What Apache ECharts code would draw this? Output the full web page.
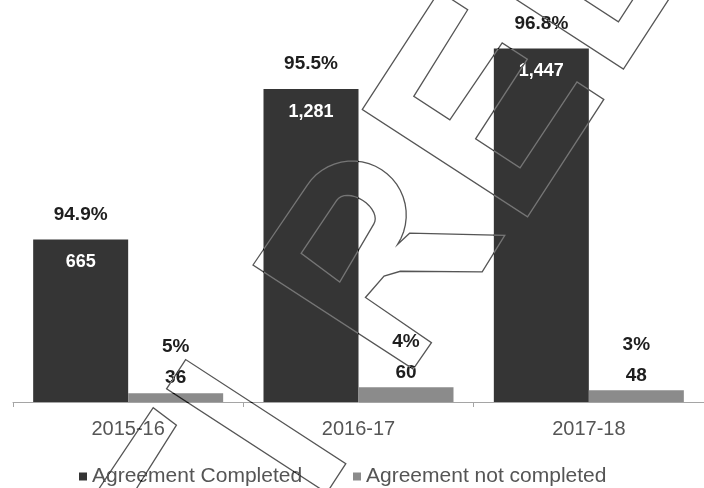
<!DOCTYPE html>
<html>
<head>
<meta charset="utf-8">
<script src="https://cdn.jsdelivr.net/npm/echarts@6/dist/echarts.min.js"></script>
<style>
  html, body { margin: 0; padding: 0; background: #ffffff; }
  #chart { width: 704px; height: 488px; }
</style>
</head>
<body>
<div id="chart"></div>
<script>
// Agreements per financial year
const categories = ['2015-16', '2016-17', '2017-18'];
const completed = [665, 1281, 1447];
const notCompleted = [36, 60, 48];
const completedPct = ['94.9%', '95.5%', '96.8%'];
const notCompletedPct = ['5%', '4%', '3%'];
const seriesNames = ['Agreement Completed', 'Agreement not completed'];

const FONT = "'Liberation Sans', Arial, Helvetica, sans-serif";

function withCommas(n) {
  return String(n).replace(/\B(?=(\d{3})+(?!\d))/g, ',');
}

// ---- Outlined stamp lettering drawn across the plot ----
// Letter outlines are described in a rotated (s, t) frame: s runs down-right, t runs up-right.
const STAMP_ORIGIN = [253, 265];
const STAMP_ANGLE = 33 * Math.PI / 180;
function stampPoint(s, t) {
  const c = Math.cos(STAMP_ANGLE), n = Math.sin(STAMP_ANGLE);
  return [STAMP_ORIGIN[0] + s * c + t * n, STAMP_ORIGIN[1] + s * n - t * c];
}
function halfEllipse(cs, ct, rs, rt, steps) {
  const out = [];
  for (let i = 0; i <= steps; i++) {
    const a = Math.PI * i / steps;
    out.push([cs - rs * Math.cos(a), ct + rt * Math.sin(a)]);
  }
  return out;
}
const stampShapes = [
  // R outer contour
  { closed: true, pts: [[0, 0], [2, 96]].concat(halfEllipse(56, 96, 54, 54, 24)).concat([
      [114, 112], [195, 162], [196, 119], [127, 75], [116, 62], [112, 34], [192, 32], [191, 0]]) },
  // R counter
  { closed: true, pts: [[34, 36], [35, 100]].concat(halfEllipse(57, 100, 22, 14, 16)).concat([[82, 33]]) },
  // E
  { closed: true, pts: [[7, 190], [7, 331], [41, 331], [43, 229], [86, 229], [88, 322], [118, 322],
      [118, 227], [171, 227], [172, 330], [204, 330], [204, 190]] },
  // D outer and counter
  { closed: true, pts: [[7, 366], [7, 470], [204, 470], [204, 366]] },
  { closed: true, pts: [[40, 403], [174, 403], [174, 470], [40, 470]] },
  // preceding letter fragments
  { closed: false, pts: [[200, -151], [-5, -151], [-5, -116], [186, -116], [186, -220]] },
  { closed: false, pts: [[-8, -320], [-6, -174], [23, -176], [25, -320]] }
];
// 'difference' blending: dark grey over white, lighter grey over the dark bars
const stampGraphics = stampShapes.map(sh => ({
  type: sh.closed ? 'polygon' : 'polyline',
  silent: true,
  z: 100,
  shape: { points: sh.pts.map(p => stampPoint(p[0], p[1])) },
  style: { fill: sh.closed ? 'none' : null, stroke: '#aaaaaa', lineWidth: 1.3, blend: 'difference' }
}));

const chart = echarts.init(document.getElementById('chart'), null, { renderer: 'canvas' });

const legendBase = {
  orient: 'horizontal',
  top: 461,
  itemWidth: 8,
  itemHeight: 8,
  icon: 'rect',
  selectedMode: false,
  textStyle: { fontFamily: FONT, fontSize: 21, color: '#555555' }
};

chart.setOption({
  animation: false,
  backgroundColor: '#ffffff',
  grid: { left: 13, right: -5, top: 11, bottom: 86, containLabel: false },
  legend: [
    Object.assign({}, legendBase, { data: [seriesNames[0]], left: 74 }),
    Object.assign({}, legendBase, { data: [seriesNames[1]], left: 348 })
  ],
  xAxis: {
    type: 'category',
    data: categories,
    axisLine: { show: true, lineStyle: { color: '#a5a5a5', width: 1 } },
    axisTick: { show: true, length: 5, lineStyle: { color: '#a5a5a5' } },
    axisLabel: { fontFamily: FONT, fontSize: 20, color: '#555555', margin: 17 }
  },
  yAxis: { type: 'value', min: 0, max: 1600, show: false, splitLine: { show: false } },
  series: [
    {
      name: seriesNames[0],
      type: 'bar',
      data: completed,
      barWidth: 95,
      barGap: '0%',
      itemStyle: { color: '#353535' },
      label: {
        show: true,
        position: ['50%', -37],
        align: 'center',
        verticalAlign: 'top',
        formatter: p => '{p|' + completedPct[p.dataIndex] + '}\n{v|' + withCommas(p.value) + '}',
        rich: {
          p: { fontFamily: FONT, fontSize: 19, fontWeight: 'bold', color: '#1e1e1e', lineHeight: 24 },
          v: { fontFamily: FONT, fontSize: 18, fontWeight: 'bold', color: '#ffffff', lineHeight: 72 }
        }
      }
    },
    {
      name: seriesNames[1],
      type: 'bar',
      data: notCompleted,
      barWidth: 95,
      itemStyle: { color: '#8b8b8b' },
      label: {
        show: true,
        position: 'top',
        distance: 3,
        formatter: p => '{p|' + notCompletedPct[p.dataIndex] + '}\n{v|' + withCommas(p.value) + '}',
        rich: {
          p: { fontFamily: FONT, fontSize: 19, fontWeight: 'bold', color: '#1e1e1e', lineHeight: 38 },
          v: { fontFamily: FONT, fontSize: 19, fontWeight: 'bold', color: '#1e1e1e', lineHeight: 24 }
        }
      }
    }
  ],
  graphic: stampGraphics
});
</script>
</body>
</html>
